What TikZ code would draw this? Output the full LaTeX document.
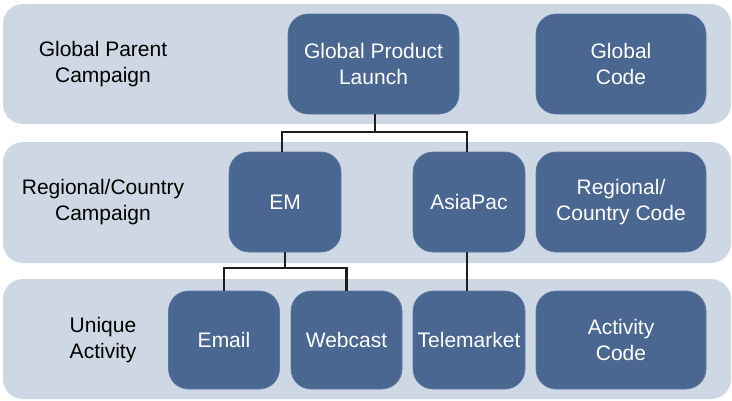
\documentclass[tikz,border=0pt]{standalone}
\usepackage{fontspec}
\setmainfont{Liberation Sans}
\definecolor{bandfill}{HTML}{CED8E4}
\definecolor{boxfill}{HTML}{4A6791}
\definecolor{boxline}{HTML}{5B77A0}
\definecolor{linkc}{HTML}{1E1E1E}
\begin{document}
\begin{tikzpicture}[x=1pt,y=-1pt,
  band/.style={fill=bandfill,draw=none,rounded corners=20pt},
  cbox/.style={rectangle,rounded corners=20pt,fill=boxfill,draw=boxline,line width=0.6pt,
     text=white,align=center,inner sep=0pt,font=\fontsize{21}{25.5}\selectfont},
  lbl/.style={align=center,text=black,font=\fontsize{21}{25.5}\selectfont},
  link/.style={draw=linkc,line width=2.2pt,line join=miter}]
\useasboundingbox (0,0) rectangle (732,400);
% bands
\path[band] (3,4) rectangle (731,124);
\path[band] (3,142) rectangle (731,263);
\path[band] (3,279) rectangle (731,399);
% labels
\node[lbl] (l1) at (103,64) {Global Parent\\Campaign};
\node[lbl] (l2) at (103,202) {Regional/Country\\Campaign};
\node[lbl] (l3) at (103,340) {Unique\\Activity};
% hierarchy boxes
\node[cbox,minimum width=171pt,minimum height=100pt] (gpl) at (373.5,64) {Global Product\\Launch};
\node[cbox,minimum width=112pt,minimum height=100pt] (em) at (285,202) {EM};
\node[cbox,minimum width=112pt,minimum height=100pt] (ap) at (469,202) {AsiaPac};
\node[cbox,minimum width=111pt,minimum height=98pt] (email) at (224,340) {Email};
\node[cbox,minimum width=111pt,minimum height=98pt] (web) at (346.5,340) {Webcast};
\node[cbox,minimum width=112pt,minimum height=98pt] (tel) at (469,340) {Telemarket};
% connectors
\draw[link] ([xshift=1.5pt]gpl.south) -- ++(0,18) coordinate (j1) -| ([xshift=-3pt]em.north);
\draw[link] (j1) -| ([xshift=-2pt]ap.north);
\draw[link] (em.south) -- ++(0,16) coordinate (j2) -| (email.north);
\draw[link] (j2) -| (web.north);
\draw[link] ([xshift=-2pt]ap.south) -- ([xshift=-2pt]tel.north);
% code boxes
\node[cbox,minimum width=170pt,minimum height=100pt] (gcode) at (621,64) {Global\\Code};
\node[cbox,minimum width=170pt,minimum height=100pt] (rcode) at (621,202) {Regional/\\Country Code};
\node[cbox,minimum width=170pt,minimum height=98pt] (acode) at (621,340) {Activity\\Code};
\end{tikzpicture}
\end{document}
